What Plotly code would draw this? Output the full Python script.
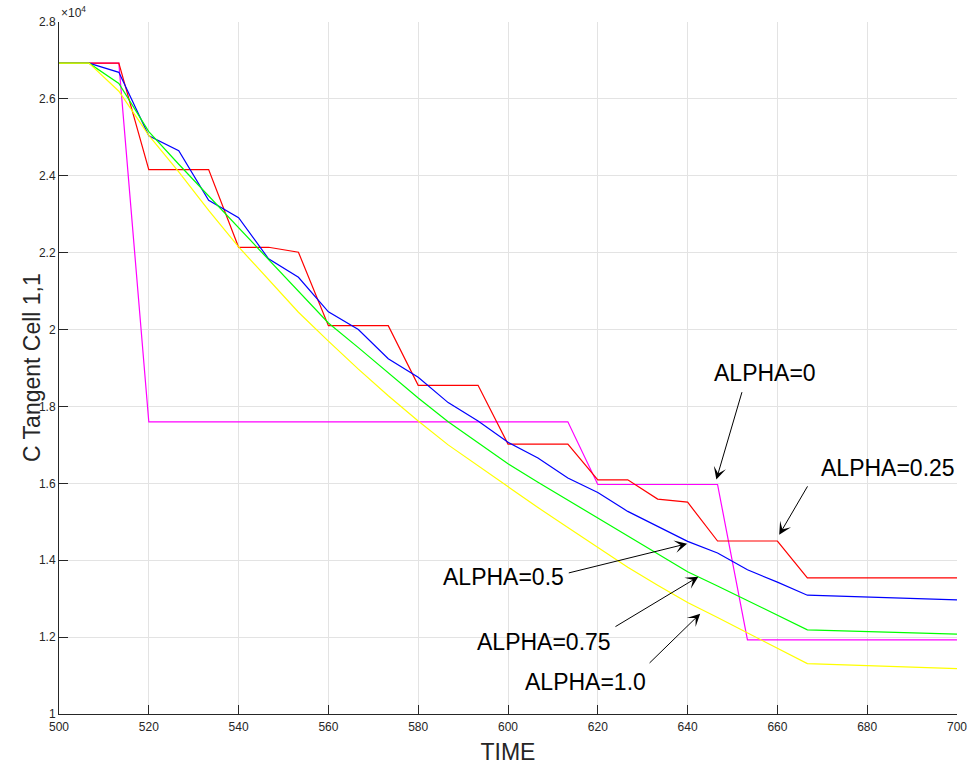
import plotly.graph_objects as go

# Time samples (s)
time = [500, 506.67, 513.33, 520, 526.67, 533.33, 540, 546.67, 553.33, 560,
        566.67, 573.33, 580, 586.67, 593.33, 600, 606.67, 613.33, 620, 626.67,
        633.33, 640, 646.67, 653.33, 660, 666.67, 700]

# C tangent, cell (1,1), in units of 1e4, for each ALPHA
alpha_0 = [2.693, 2.693, 2.693,
           1.760, 1.760, 1.760, 1.760, 1.760, 1.760, 1.760, 1.760, 1.760, 1.760,
           1.760, 1.760, 1.760, 1.760, 1.760,
           1.597, 1.597, 1.597, 1.597, 1.597,
           1.193, 1.193, 1.193, 1.193]
alpha_025 = [2.693, 2.693, 2.693, 2.416, 2.416, 2.416, 2.214, 2.214, 2.201, 2.010,
             2.010, 2.010, 1.855, 1.855, 1.855, 1.702, 1.702, 1.702, 1.609, 1.609,
             1.559, 1.551, 1.450, 1.450, 1.450, 1.354, 1.354]
alpha_05 = [2.693, 2.693, 2.669, 2.504, 2.465, 2.336, 2.291, 2.184, 2.136, 2.046,
            2.000, 1.924, 1.876, 1.810, 1.762, 1.707, 1.666, 1.614, 1.576, 1.527,
            1.488, 1.449, 1.419, 1.375, 1.343, 1.309, 1.297]
alpha_075 = [2.693, 2.693, 2.640, 2.515, 2.430, 2.348, 2.265, 2.182, 2.100, 2.017,
             1.953, 1.888, 1.822, 1.760, 1.705, 1.651, 1.603, 1.556, 1.510, 1.463,
             1.417, 1.370, 1.333, 1.295, 1.257, 1.219, 1.208]
alpha_1 = [2.693, 2.693, 2.620, 2.505, 2.410, 2.310, 2.215, 2.130, 2.045, 1.970,
           1.897, 1.828, 1.762, 1.700, 1.645, 1.590, 1.537, 1.485, 1.434, 1.382,
           1.335, 1.290, 1.251, 1.211, 1.171, 1.131, 1.118]

series = [
    ("ALPHA=0", alpha_0, "#ff00ff"),
    ("ALPHA=0.25", alpha_025, "#ff0000"),
    ("ALPHA=0.5", alpha_05, "#0000ff"),
    ("ALPHA=0.75", alpha_075, "#00ff00"),
    ("ALPHA=1.0", alpha_1, "#ffff00"),
]

x_ticks = list(range(500, 701, 20))
y_ticks = [1, 1.2, 1.4, 1.6, 1.8, 2, 2.2, 2.4, 2.6, 2.8]
y_tick_text = ["1", "1.2", "1.4", "1.6", "1.8", "2", "2.2", "2.4", "2.6", "2.8"]

FONT = "Liberation Sans, Arial, Helvetica, sans-serif"
AXIS_COLOR = "#262626"
GRID_COLOR = "#e3e3e3"

fig = go.Figure()
for name, values, color in series:
    fig.add_trace(go.Scatter(x=time, y=values, mode="lines", name=name,
                             line=dict(color=color, width=1.2)))

# Text-arrow labels: (text, text centre, arrow tail, arrow tip)
labels = [
    ("ALPHA=0", (657.3, 1.886), (652.2, 1.841), (646.4, 1.610)),
    ("ALPHA=0.25", (684.7, 1.641), (666.9, 1.596), (660.4, 1.466)),
    ("ALPHA=0.5", (599.1, 1.357), (613.2, 1.366), (639.9, 1.443)),
    ("ALPHA=0.75", (608.1, 1.186), (623.6, 1.225), (642.4, 1.357)),
    ("ALPHA=1.0", (617.2, 1.082), (631.2, 1.129), (642.8, 1.261)),
]
annotations = []
for text, (tx, ty), (ax, ay), (hx, hy) in labels:
    annotations.append(dict(x=hx, y=hy, ax=ax, ay=ay, xref="x", yref="y",
                            axref="x", ayref="y", text="", showarrow=True,
                            arrowhead=3, arrowsize=2.1, arrowwidth=1,
                            arrowcolor="#000000", standoff=0, startstandoff=0))
    annotations.append(dict(x=tx, y=ty, xref="x", yref="y", text=text,
                            showarrow=False, xanchor="center", yanchor="middle",
                            font=dict(family=FONT, size=23, color="#000000")))

annotations.append(dict(x=0, y=1, xref="paper", yref="paper",
                        text="×10<sup>4</sup>", showarrow=False,
                        xanchor="left", yanchor="bottom", yshift=0,
                        font=dict(family=FONT, size=12, color=AXIS_COLOR)))
annotations.append(dict(x=-27 / 898, y=0.5, xref="paper", yref="paper",
                        text="C Tangent Cell 1,1", textangle=-90, showarrow=False,
                        xanchor="center", yanchor="middle",
                        font=dict(family=FONT, size=23, color=AXIS_COLOR)))

fig.update_layout(
    width=968, height=765,
    margin=dict(l=59, r=11, t=22, b=51, autoexpand=False),
    paper_bgcolor="white", plot_bgcolor="white",
    showlegend=False,
    font=dict(family=FONT, color=AXIS_COLOR),
    annotations=annotations,
    xaxis=dict(range=[500, 700], tickvals=x_ticks, ticks="inside", ticklen=9,
               tickcolor=AXIS_COLOR, showline=True, linecolor=AXIS_COLOR,
               linewidth=1, showgrid=True, gridcolor=GRID_COLOR, gridwidth=1,
               zeroline=False, automargin=False, ticklabelstandoff=2,
               tickfont=dict(family=FONT, size=12, color=AXIS_COLOR),
               title=dict(text="TIME", font=dict(family=FONT, size=23, color=AXIS_COLOR),
                          standoff=10)),
    yaxis=dict(range=[1, 2.8], tickvals=y_ticks, ticktext=y_tick_text,
               ticks="inside", ticklen=9, tickcolor=AXIS_COLOR, showline=True,
               linecolor=AXIS_COLOR, linewidth=1, showgrid=True,
               gridcolor=GRID_COLOR, gridwidth=1, zeroline=False, automargin=False,
               tickfont=dict(family=FONT, size=12, color=AXIS_COLOR)),
)

fig.write_html("out.html")
